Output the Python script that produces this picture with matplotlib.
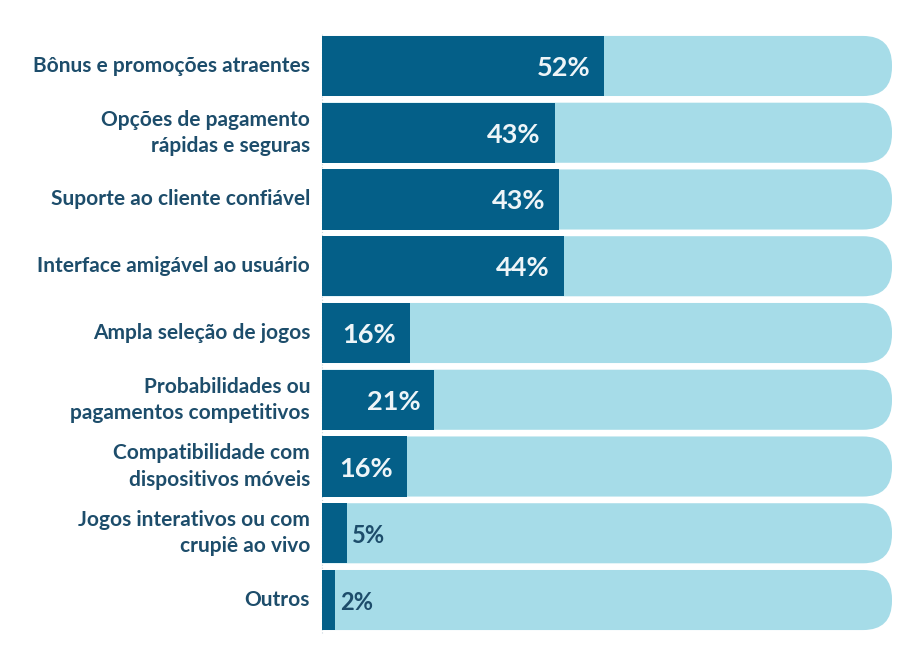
import matplotlib
matplotlib.use("Agg")
import matplotlib.pyplot as plt
from matplotlib.patches import FancyBboxPatch
from matplotlib.transforms import offset_copy

categories = [
    "Bônus e promoções atraentes",
    "Opções de pagamento\nrápidas e seguras",
    "Suporte ao cliente confiável",
    "Interface amigável ao usuário",
    "Ampla seleção de jogos",
    "Probabilidades ou\npagamentos competitivos",
    "Compatibilidade com\ndispositivos móveis",
    "Jogos interativos ou com\ncrupiê ao vivo",
    "Outros",
]
values = [52, 42.9, 43.7, 44.6, 16.2, 20.7, 15.7, 4.6, 2.4]
value_labels = ["52%", "43%", "43%", "44%", "16%", "21%", "16%", "5%", "2%"]
track_max = 105.1

DARK = "#045f88"
LIGHT = "#a6dce8"
TEXT = "#1d4d6b"

plt.rcParams['font.family'] = ['Lato', 'DejaVu Sans']

W, H = 923, 666
fig = plt.figure(figsize=(W / 100, H / 100), dpi=100)
ax_left, ax_right = 322 / W, 892 / W
ax_top, ax_bottom = 1 - 32.6 / H, 1 - 633.4 / H
ax = fig.add_axes([ax_left, ax_bottom, ax_right - ax_left, ax_top - ax_bottom])
n = len(categories)
ax.set_xlim(0, track_max)
ax.set_ylim(n - 0.5, -0.5)
ax.axis("off")

bar_h = 0.9
px_per_x = (892 - 322) / track_max
px_per_y = (633.4 - 32.6) / n
radius_px = 29
r_x = radius_px / px_per_x
aspect = (radius_px / px_per_y) / r_x

for i in range(n):
    box = FancyBboxPatch((-20, i - bar_h / 2), track_max + 20, bar_h,
                         boxstyle=f"round,pad=0,rounding_size={r_x}",
                         mutation_aspect=aspect, facecolor=LIGHT,
                         edgecolor="none", zorder=1, clip_on=True)
    ax.add_patch(box)
    box.set_clip_path(ax.patch)

ax.barh(range(n), values, height=bar_h, color=DARK, zorder=2)

ax.axvline(0, ymin=0, ymax=1, color="#c9d6de", lw=0.8, ls=":", zorder=0, clip_on=False)

for i, (v, lab) in enumerate(zip(values, value_labels)):
    if v >= 10:
        tr = offset_copy(ax.transData, fig=fig, x=-14, y=0, units="dots")
        ax.text(v, i, lab, transform=tr, ha="right", va="center_baseline",
                color="#eef5f8", fontsize=19.5, fontweight="bold", zorder=3)
    else:
        tr = offset_copy(ax.transData, fig=fig, x=5, y=0, units="dots")
        ax.text(v, i, lab, transform=tr, ha="left", va="center_baseline",
                color=TEXT, fontsize=17, fontweight="bold", zorder=3)

for i, c in enumerate(categories):
    tr = offset_copy(ax.transData, fig=fig, x=-12, y=0, units="dots")
    ax.text(0, i, c, transform=tr, ha="right", va="center", ma="right",
            color=TEXT, fontsize=15, fontweight="bold", linespacing=1.4,
            clip_on=False)

fig.savefig("out.png", dpi=100, facecolor="white")
